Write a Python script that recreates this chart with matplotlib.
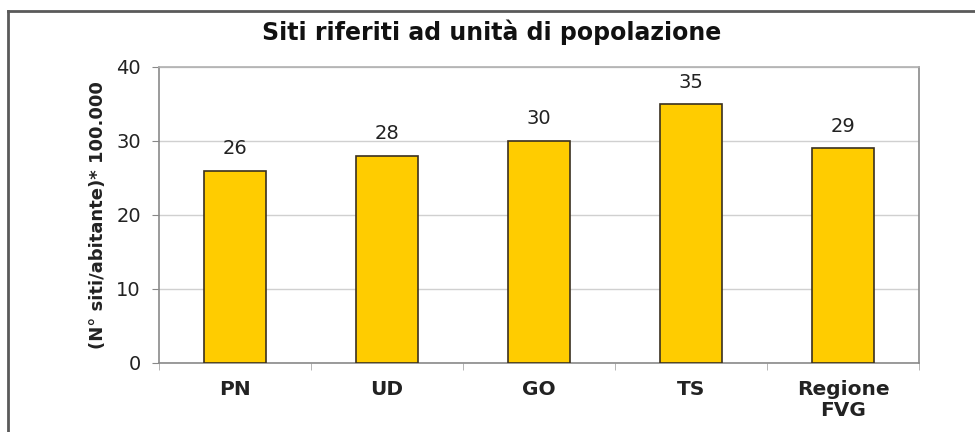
import matplotlib
matplotlib.use("Agg")
import matplotlib.pyplot as plt
from matplotlib.lines import Line2D
import numpy as np

# Sites per 100,000 inhabitants, by province and region
categories = ["PN", "UD", "GO", "TS", "Regione\nFVG"]
values = [26, 28, 30, 35, 29]
y_ticks = [0, 10, 20, 30, 40]

plt.rcParams["font.family"] = ["DejaVu Sans"]

fig = plt.figure(figsize=(9.75, 4.32), dpi=100)
fig.patch.set_facecolor("white")

# outer frame (top and left edges visible)
fig.add_artist(Line2D([8 / 975, 8 / 975], [-0.1, 1 - 11 / 432], transform=fig.transFigure,
                      color="#5a5a5a", lw=2))
fig.add_artist(Line2D([8 / 975, 1.1], [1 - 11 / 432, 1 - 11 / 432], transform=fig.transFigure,
                      color="#5a5a5a", lw=2))

ax = fig.add_axes([159 / 975, 69 / 432, (919 - 159) / 975, (363 - 67) / 432])

x = np.arange(len(categories))
bars = ax.bar(x, values, width=0.41, color="#FFCC00", edgecolor="#3a3020", linewidth=1.2, zorder=3)

for xi, v in zip(x, values):
    ax.annotate(f"{v}", (xi, v), xytext=(0, 9), textcoords="offset points",
                ha="center", va="bottom", fontsize=14, color="#222222")

ax.set_xlim(-0.5, len(categories) - 0.5)
ax.set_ylim(0, 40)
ax.set_yticks(y_ticks)
ax.tick_params(axis="y", labelsize=14, length=5, color="#888888", labelcolor="#222222", pad=8)
ax.yaxis.grid(True, color="#d0d0d0", lw=1, zorder=0)

ax.set_xticks(x)
ax.set_xticklabels(categories, fontsize=14.5, fontweight="bold", color="#222222", linespacing=1.15)
ax.tick_params(axis="x", length=0, pad=12)
ax.set_xticks(np.arange(len(categories) + 1) - 0.5, minor=True)
ax.tick_params(axis="x", which="minor", length=5, color="#aaaaaa")

for side in ["left", "bottom", "right", "top"]:
    ax.spines[side].set_color("#8a8a8a")
    ax.spines[side].set_linewidth(1.2)
ax.spines["top"].set_color("#b0b0b0")

ax.set_ylabel("(N° siti/abitante)* 100.000", fontsize=13, fontweight="bold", color="#222222", labelpad=7)

fig.text(492 / 975, 1 - 32 / 432, "Siti riferiti ad unità di popolazione", ha="center", va="center",
         fontsize=17, fontweight="bold", color="#111111")

fig.savefig("out.png", dpi=100, facecolor="white")
